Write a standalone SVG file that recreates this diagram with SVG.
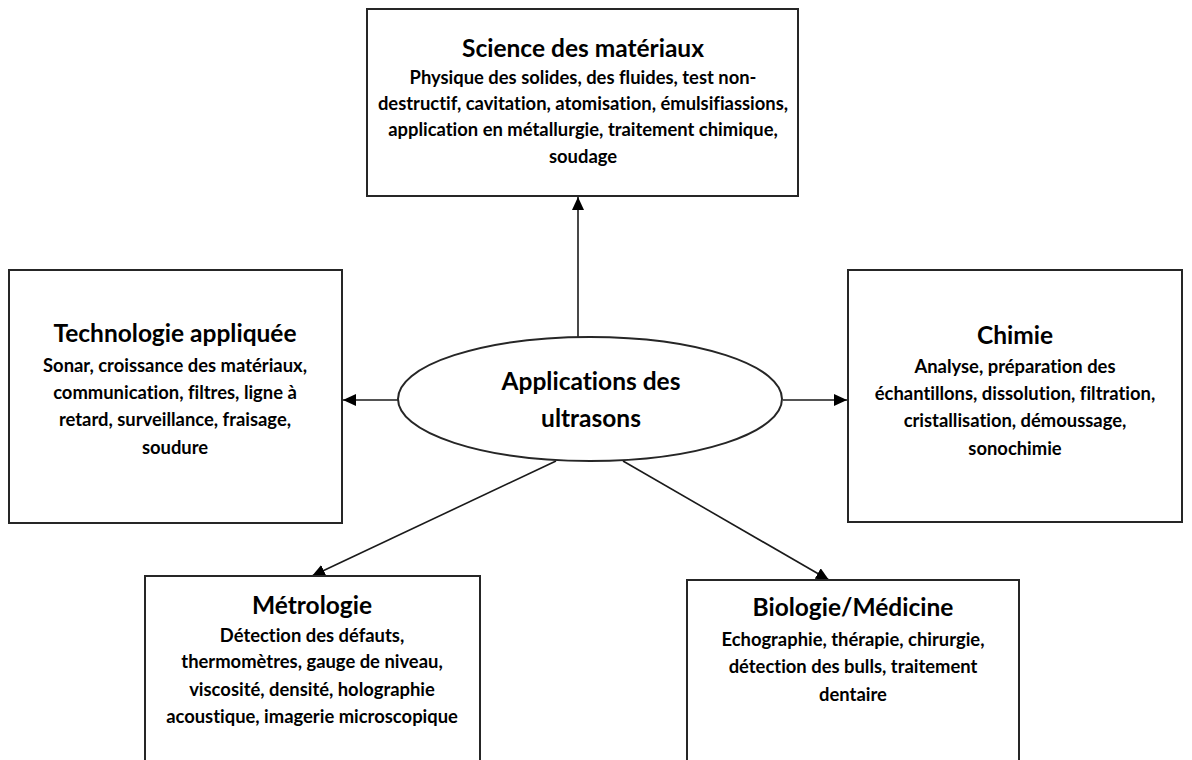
<svg xmlns="http://www.w3.org/2000/svg" width="1192" height="760" viewBox="0 0 1192 760">
<defs>
<marker id="arr" markerUnits="userSpaceOnUse" markerWidth="14" markerHeight="12" refX="13" refY="6" orient="auto">
<path d="M0,0 L13,6 L0,12 z" fill="#000"/>
</marker>
<style>
.box{fill:#fff;stroke:#262626;stroke-width:2}
.ttl{font-family:Lato,"Liberation Sans",sans-serif;font-weight:bold;font-size:24.5px;fill:#000;text-anchor:middle;font-variant-ligatures:none}
.txt{font-family:Lato,"Liberation Sans",sans-serif;font-weight:bold;font-size:18.4px;fill:#000;text-anchor:middle;font-variant-ligatures:none}
.con{stroke:#1a1a1a;stroke-width:1.6;fill:none;marker-end:url(#arr)}
</style>
</defs>
<rect width="1192" height="760" fill="#fff"/>
<g id="connectors">
<line class="con" x1="578" y1="337" x2="578" y2="197"/>
<line class="con" x1="398" y1="400" x2="343" y2="400"/>
<line class="con" x1="783" y1="400" x2="847" y2="400"/>
<line class="con" x1="556" y1="461" x2="312" y2="576"/>
<line class="con" x1="623" y1="461" x2="829" y2="580"/>
</g>
<g id="center">
<ellipse cx="590" cy="399" rx="192" ry="62" fill="#fff" stroke="#262626" stroke-width="2"/>
<text class="ttl" x="591" y="390">Applications des</text>
<text class="ttl" x="591" y="427">ultrasons</text>
</g>
<g id="science">
<rect class="box" x="367" y="9" width="431" height="187"/>
<text class="ttl" x="583" y="57">Science des matériaux</text>
<text class="txt" x="583" y="84">Physique des solides, des fluides, test non-</text>
<text class="txt" x="583" y="110">destructif, cavitation, atomisation, émulsifiassions,</text>
<text class="txt" x="583" y="136">application en métallurgie, traitement chimique,</text>
<text class="txt" x="583" y="163">soudage</text>
</g>
<g id="techno">
<rect class="box" x="9" y="270" width="333" height="253"/>
<text class="ttl" x="175" y="342">Technologie appliquée</text>
<text class="txt" x="175" y="372">Sonar, croissance des matériaux,</text>
<text class="txt" x="175" y="399">communication, filtres, ligne à</text>
<text class="txt" x="175" y="426">retard, surveillance, fraisage,</text>
<text class="txt" x="175" y="454">soudure</text>
</g>
<g id="chimie">
<rect class="box" x="848" y="270" width="334" height="252"/>
<text class="ttl" x="1015" y="344">Chimie</text>
<text class="txt" x="1015" y="373">Analyse, préparation des</text>
<text class="txt" x="1015" y="400">échantillons, dissolution, filtration,</text>
<text class="txt" x="1015" y="427">cristallisation, démoussage,</text>
<text class="txt" x="1015" y="455">sonochimie</text>
</g>
<g id="metrologie">
<rect class="box" x="145" y="576" width="335" height="200"/>
<text class="ttl" x="312" y="614">Métrologie</text>
<text class="txt" x="312" y="642">Détection des défauts,</text>
<text class="txt" x="312" y="668">thermomètres, gauge de niveau,</text>
<text class="txt" x="312" y="696">viscosité, densité, holographie</text>
<text class="txt" x="312" y="723">acoustique, imagerie microscopique</text>
</g>
<g id="biologie">
<rect class="box" x="687" y="580" width="332" height="200"/>
<text class="ttl" x="853" y="616">Biologie/Médicine</text>
<text class="txt" x="853" y="646">Echographie, thérapie, chirurgie,</text>
<text class="txt" x="853" y="673">détection des bulls, traitement</text>
<text class="txt" x="853" y="701">dentaire</text>
</g>
</svg>
